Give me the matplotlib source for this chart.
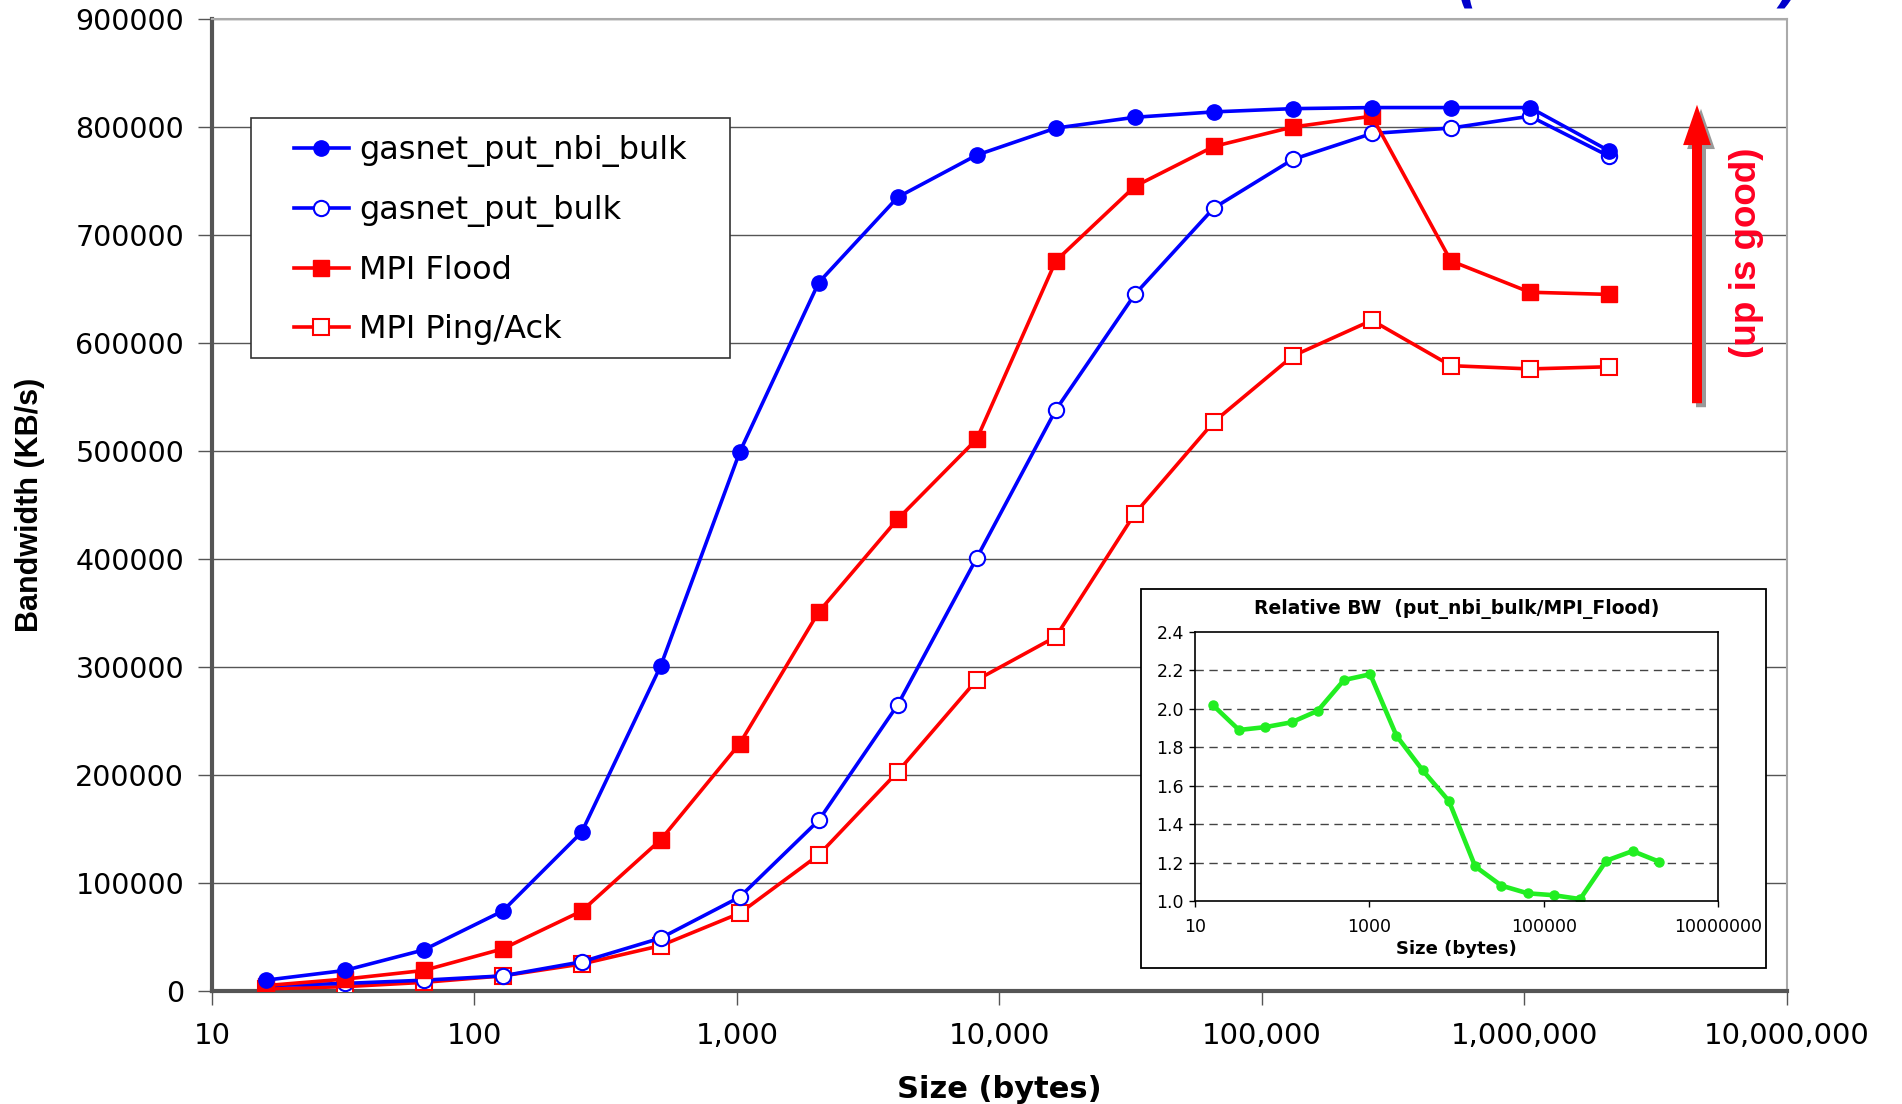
import numpy as np
import matplotlib
matplotlib.use("Agg")
from matplotlib import pyplot as plt
from matplotlib.patches import FancyArrowPatch, Rectangle
from matplotlib.ticker import FixedLocator, NullLocator

plt.rcParams['font.family'] = ['DejaVu Sans']

sizes = [2 ** k for k in range(4, 22)]

nbi_bulk = [10000, 19000, 38000, 74000, 147000, 301000, 499000, 656000, 735000,
            774000, 799000, 809000, 814000, 817000, 818000, 818000, 818000, 778000]
put_bulk = [5000, 7000, 10000, 14000, 27000, 49000, 87000, 158000, 265000,
            401000, 538000, 645000, 725000, 770000, 794000, 799000, 810000, 773000]
mpi_flood = [5000, 11000, 19000, 39000, 74000, 140000, 229000, 351000, 437000,
             511000, 676000, 745000, 782000, 800000, 810000, 676000, 647000, 645000]
mpi_pingack = [2000, 4000, 8000, 14000, 25000, 42000, 72000, 126000, 203000,
               288000, 328000, 442000, 527000, 588000, 621000, 579000, 576000, 578000]

rel_bw = [2.02, 1.89, 1.905, 1.93, 1.99, 2.15, 2.18, 1.86, 1.68,
          1.52, 1.18, 1.08, 1.04, 1.03, 1.01, 1.21, 1.26, 1.205]

xticks = [10, 100, 1000, 10000, 100000, 1000000, 10000000]
xtick_labels = ['10', '100', '1,000', '10,000', '100,000', '1,000,000', '10,000,000']
yticks = list(range(0, 900001, 100000))

fig = plt.figure(figsize=(19.02, 11.04), dpi=100)
W, H = 1902.0, 1104.0

ax = fig.add_axes([212 / W, 1 - 991 / H, (1787 - 212) / W, (991 - 19) / H])
ax.set_xscale('log')
ax.set_xlim(10, 1e7)
ax.set_ylim(0, 900000)

ax.plot(sizes, nbi_bulk, color='#0000ff', lw=2.6, marker='o', ms=11,
        mfc='#0000ff', mec='#0000ff', label='gasnet_put_nbi_bulk', zorder=5)
ax.plot(sizes, put_bulk, color='#0000ff', lw=2.6, marker='o', ms=11,
        mfc='white', mec='#0000ff', mew=1.5, label='gasnet_put_bulk', zorder=4)
ax.plot(sizes, mpi_flood, color='#ff0000', lw=2.6, marker='s', ms=11,
        mfc='#ff0000', mec='#ff0000', label='MPI Flood', zorder=4)
ax.plot(sizes, mpi_pingack, color='#ff0000', lw=2.6, marker='s', ms=11,
        mfc='white', mec='#ff0000', mew=1.5, label='MPI Ping/Ack', zorder=3)

ax.xaxis.set_major_locator(FixedLocator(xticks))
ax.xaxis.set_minor_locator(NullLocator())
ax.set_xticklabels(xtick_labels, fontsize=21)
ax.set_yticks(yticks)
ax.set_yticklabels([str(v) for v in yticks], fontsize=20.5)
ax.tick_params(axis='x', direction='out', length=10, width=1, color='#555555', pad=12)
ax.tick_params(axis='y', direction='out', length=10, width=1, color='#555555', pad=10)
ax.yaxis.grid(True, color='#555555', lw=1)
ax.set_axisbelow(True)

for s in ['left', 'bottom']:
    ax.spines[s].set_color('#555555')
    ax.spines[s].set_linewidth(3)
for s in ['top', 'right']:
    ax.spines[s].set_color('#aaaaaa')
    ax.spines[s].set_linewidth(1.5)

ax.set_xlabel('Size (bytes)', fontsize=22, fontweight='bold', labelpad=18)
ax.set_ylabel('Bandwidth (KB/s)', fontsize=22, fontweight='bold', labelpad=22,
              family='Liberation Sans')

# legend: box drawn by hand, entries placed inside it
ax.add_patch(Rectangle((251 / W, 1 - 358 / H), (730 - 251) / W, (358 - 118) / H,
                       transform=fig.transFigure, facecolor='white',
                       edgecolor='#333333', lw=1.2, zorder=6, clip_on=False))
leg = ax.legend(loc='upper left', bbox_to_anchor=(294 / W, 1 - 135 / H),
                bbox_transform=fig.transFigure, borderaxespad=0, borderpad=0,
                fontsize=23, frameon=False, handlelength=1.72,
                labelspacing=0.88, handletextpad=0.32)
leg.set_zorder(7)

# "up is good" arrow with shadow
style = 'simple,head_width=1.0,head_length=1.45,tail_width=0.36'
shadow = FancyArrowPatch((1701 / W, 1 - 410 / H), (1701 / W, 1 - 106 / H),
                         transform=fig.transFigure, arrowstyle=style,
                         mutation_scale=20, color='#999999', lw=0)
arrow = FancyArrowPatch((1697 / W, 1 - 406 / H), (1697 / W, 1 - 102 / H),
                        transform=fig.transFigure, arrowstyle=style,
                        mutation_scale=20, color='#ff0000', lw=0)
fig.patches.append(shadow)
fig.patches.append(arrow)
fig.text(1747 / W, 1 - 253 / H, '(up is good)', rotation=90, color='#ff0022',
         fontsize=26.5, fontweight='bold', ha='center', va='center',
         family='Liberation Sans')

# title fragment cut at the top edge
fig.text(1468 / W, 1.0, '(', color='#0000cc', fontsize=40, fontweight='bold',
         ha='center', va='baseline', style='italic')
fig.text(1790 / W, 1.0, ')', color='#0000cc', fontsize=40, fontweight='bold',
         ha='center', va='baseline', style='italic')

# inset
fig.patches.append(Rectangle((1141 / W, 1 - 968 / H), 625 / W, 379 / H,
                             transform=fig.transFigure, facecolor='white',
                             edgecolor='black', lw=1.3, zorder=6))
ins = fig.add_axes([1195 / W, 1 - 901 / H, 523 / W, 269 / H], zorder=7)
ins.set_xscale('log')
ins.set_xlim(10, 1e7)
ins.set_ylim(1.0, 2.4)
ins.plot(sizes, rel_bw, color='#22ee22', lw=3.3, marker='o', ms=6.5)
ins.xaxis.set_major_locator(FixedLocator([10, 1000, 100000, 10000000]))
ins.xaxis.set_minor_locator(NullLocator())
ins.set_xticklabels(['10', '1000', '100000', '10000000'], fontsize=12.5)
ins.set_yticks(np.arange(1.0, 2.41, 0.2))
ins.set_yticklabels(['%.1f' % v for v in np.arange(1.0, 2.41, 0.2)], fontsize=12.5)
ins.tick_params(axis='x', direction='out', length=4, width=1, pad=8)
ins.tick_params(axis='y', direction='out', length=4, width=1, pad=4)
for v in np.arange(1.2, 2.3, 0.2):
    ins.axhline(v, color='#444444', lw=1, ls=(0, (6, 4)), zorder=0)
for s in ins.spines.values():
    s.set_linewidth(1.2)
ins.set_title('Relative BW  (put_nbi_bulk/MPI_Flood)', fontsize=13.5,
              fontweight='bold', pad=13)
ins.set_xlabel('Size (bytes)', fontsize=13, fontweight='bold', labelpad=3)

fig.savefig('out.png', dpi=100)
